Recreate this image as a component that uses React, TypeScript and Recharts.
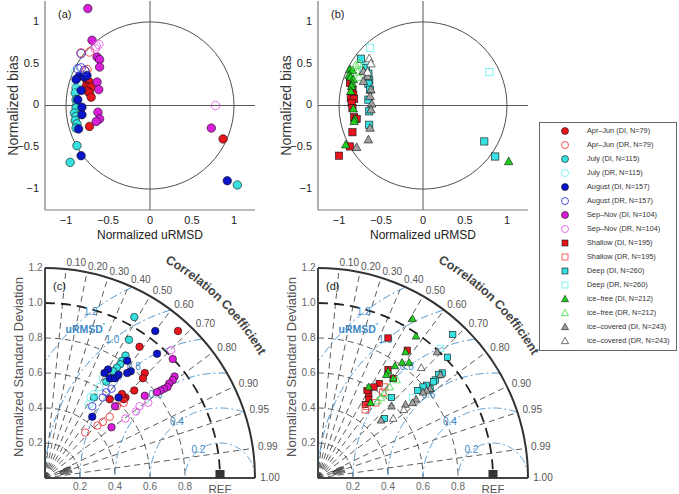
import React from "react";
import { ScatterChart, Scatter, XAxis, YAxis, ReferenceLine, Customized } from "recharts";
import * as RC from "recharts";

type Pt = [number, number];

// ---- (a) target diagram by season: [normalized uRMSD, normalized bias]
const aprJunDI_a: Pt[] = [[-0.75, 0.29], [-0.72, 0.28], [-0.76, 0.23], [-0.73, 0.22], [-0.7, 0.22], [-0.74, 0.17], [-0.72, 0.15], [-0.7, 0.1], [-0.72, -0.25], [0.87, -0.4]];
const aprJunDR_a: Pt[] = [[-0.82, 0.63], [-0.72, 0.64], [-0.75, 0.43], [-0.77, 0.41]];
const julyDI_a: Pt[] = [[-0.88, 0.21], [-0.89, 0.15], [-0.88, 0.07], [-0.87, 0.01], [-0.88, -0.03], [-0.9, -0.09], [-0.88, -0.13], [-0.89, -0.18], [-0.87, -0.22], [-0.88, -0.27], [-0.87, -0.48], [-0.95, -0.68], [1.04, -0.95]];
const julyDR_a: Pt[] = [[-0.89, 0.4], [-0.88, 0.26], [-0.86, 0.2]];
const augustDI_a: Pt[] = [[-0.84, 0.35], [-0.88, 0.31], [-0.78, 0.34], [-0.75, 0.36], [-0.82, 0.18], [-0.86, 0.07], [-0.81, -0.02], [-0.81, -0.11], [-0.85, -0.28], [-0.82, -0.6], [0.92, -0.9]];
const augustDR_a: Pt[] = [[-0.82, 0.62], [-0.86, 0.44], [-0.82, 0.45], [-0.78, 0.42]];
const sepNovDI_a: Pt[] = [[-0.74, 1.16], [-0.69, 0.78], [-0.63, 0.58], [-0.6, 0.55], [-0.6, 0.46], [-0.63, 0.28], [-0.61, 0.19], [-0.62, -0.08], [-0.6, -0.16], [-0.64, -0.19], [0.73, -0.27]];
const sepNovDR_a: Pt[] = [[-0.64, 0.71], [-0.61, 0.73], [-0.65, 0.68], [0.78, 0.0]];

// ---- (b) target diagram by depth / ice cover
const shallowDI_b: Pt[] = [[-0.87, 0.27], [-0.84, 0.18], [-0.83, 0.13], [-0.86, 0.09], [-0.82, 0.08], [-0.85, 0.03], [-0.84, -0.03], [-0.82, -0.14], [-0.79, -0.16], [-0.84, -0.32], [-0.87, -0.49], [-1.0, -0.6]];
const shallowDR_b: Pt[] = [];
const deepDI_b: Pt[] = [[-0.74, 0.56], [-0.68, 0.45], [-0.65, 0.38], [-0.64, 0.3], [-0.65, 0.26], [-0.63, 0.19], [-0.65, 0.07], [-0.64, -0.07], [-0.64, -0.23], [0.73, -0.43], [0.86, -0.61]];
const deepDR_b: Pt[] = [[-0.63, 0.69], [-0.7, 0.46], [0.79, 0.4]];
const iceFreeDI_b: Pt[] = [[-0.87, 0.43], [-0.84, 0.42], [-0.88, 0.36], [-0.86, 0.34], [-0.83, 0.31], [-0.84, 0.26], [-0.85, 0.23], [-0.86, 0.17], [-0.83, -0.04], [-0.81, -0.16], [-0.82, -0.19], [-0.92, -0.47], [1.02, -0.67]];
const iceFreeDR_b: Pt[] = [[-0.8, 0.48], [-0.76, 0.5], [-0.78, 0.4], [-0.76, 0.34]];
const iceCovDI_b: Pt[] = [[-0.71, 0.41], [-0.66, 0.35], [-0.71, 0.29], [-0.62, 0.19], [-0.63, 0.11], [-0.61, 0.02], [-0.62, -0.05], [-0.63, -0.27], [-0.65, -0.41], [-0.79, -0.5]];
const iceCovDR_b: Pt[] = [[-0.64, 0.56], [-0.62, 0.5], [-0.66, 0.4]];

// ---- (c) Taylor diagram by season: [std*corr, std*sin]
const aprJunDI_c: Pt[] = [[0.76, 0.84], [0.54, 0.75], [0.57, 0.6], [0.56, 0.57], [0.51, 0.5], [0.46, 0.46], [0.45, 0.45], [0.44, 0.48], [0.37, 0.45]];
const aprJunDR_c: Pt[] = [[0.23, 0.26], [0.3, 0.3], [0.33, 0.32], [0.37, 0.35], [0.41, 0.41], [0.45, 0.43]];
const julyDI_c: Pt[] = [[0.51, 0.92], [0.48, 0.79], [0.46, 0.7], [0.44, 0.67], [0.43, 0.65], [0.41, 0.63], [0.39, 0.61], [0.38, 0.57], [0.35, 0.55], [0.28, 0.46]];
const julyDR_c: Pt[] = [[0.33, 0.57], [0.31, 0.52], [0.28, 0.48], [0.26, 0.46], [0.25, 0.42]];
const augustDI_c: Pt[] = [[0.63, 0.84], [0.64, 0.71], [0.47, 0.67], [0.49, 0.61], [0.47, 0.6], [0.36, 0.62], [0.34, 0.6], [0.37, 0.57], [0.4, 0.57], [0.42, 0.59], [0.42, 0.46], [0.27, 0.35]];
const augustDR_c: Pt[] = [[0.38, 0.51], [0.35, 0.49], [0.33, 0.46], [0.27, 0.41]];
const sepNovDI_c: Pt[] = [[0.73, 0.68], [0.74, 0.58], [0.73, 0.56], [0.71, 0.54], [0.7, 0.52], [0.68, 0.51], [0.66, 0.5], [0.64, 0.49], [0.57, 0.47], [0.4, 0.41], [0.38, 0.29]];
const sepNovDR_c: Pt[] = [[0.72, 0.73], [0.59, 0.43], [0.54, 0.41], [0.52, 0.38], [0.46, 0.34]];

// ---- (d) Taylor diagram by depth / ice cover
const shallowDI_d: Pt[] = [[0.4, 0.8], [0.51, 0.73], [0.4, 0.62], [0.43, 0.57], [0.35, 0.54], [0.32, 0.52], [0.29, 0.48], [0.28, 0.5], [0.29, 0.45], [0.27, 0.42]];
const shallowDR_d: Pt[] = [[0.38, 0.52], [0.37, 0.49], [0.33, 0.43], [0.28, 0.41], [0.27, 0.39]];
const deepDI_d: Pt[] = [[0.77, 0.82], [0.74, 0.69], [0.71, 0.6], [0.69, 0.59], [0.67, 0.56], [0.66, 0.55], [0.64, 0.51], [0.62, 0.53], [0.6, 0.52], [0.57, 0.5], [0.42, 0.46], [0.38, 0.34]];
const deepDR_d: Pt[] = [[0.7, 0.74], [0.54, 0.46]];
const iceFreeDI_d: Pt[] = [[0.54, 0.91], [0.56, 0.81], [0.5, 0.72], [0.48, 0.66], [0.52, 0.66], [0.44, 0.64], [0.4, 0.61], [0.39, 0.59], [0.43, 0.57], [0.29, 0.52], [0.3, 0.43]];
const iceFreeDR_d: Pt[] = [[0.45, 0.56], [0.41, 0.52], [0.38, 0.48], [0.36, 0.46], [0.34, 0.44]];
const iceCovDI_d: Pt[] = [[0.68, 0.72], [0.7, 0.59], [0.64, 0.51], [0.62, 0.5], [0.6, 0.49], [0.56, 0.45], [0.54, 0.43], [0.5, 0.42], [0.42, 0.41], [0.36, 0.33]];
const iceCovDR_d: Pt[] = [[0.59, 0.63], [0.49, 0.39], [0.43, 0.34]];

const refPoint: Pt[] = [[1, 0]];

// ticks
const TARGET_TICKS = [-1, -0.5, 0, 0.5, 1];
const STD_TICKS_Y = [0.2, 0.4, 0.6, 0.8, 1.0, 1.2];
const STD_TICKS_X = [0.2, 0.4, 0.6, 0.8, 1.0];
const CORR_TICKS = [0.1, 0.2, 0.3, 0.4, 0.5, 0.6, 0.7, 0.8, 0.9, 0.95, 0.99, 1.0];
const CORR_FINE = [0.91, 0.92, 0.93, 0.94, 0.96, 0.97, 0.98];
const STD_ARCS = [0.2, 0.4, 0.6, 0.8];
const URMSD_LEVELS = [0.2, 0.4, 0.6, 0.8, 1.0, 1.2];
const CORR_TITLE = "Correlation Coefficient";

const FONT = '"Liberation Sans", Arial, Helvetica, sans-serif';
const BLUE_RMS = "#3a89c6";
const EDGE = "#111";

// Arial bold advance widths (em) for the curved title
const BOLD_W: Record<string, number> = { C: 0.722, o: 0.611, r: 0.389, e: 0.556, l: 0.278, a: 0.556, t: 0.333, i: 0.278, n: 0.611, " ": 0.278, f: 0.333, c: 0.556 };

type Kind = "circle" | "square" | "triangle";
type Style = { label: string; kind: Kind; fill: string; stroke: string };

const STYLES: Record<string, Style> = {
  aprJunDI: { label: "Apr–Jun (DI, N=79)", kind: "circle", fill: "#e8141e", stroke: EDGE },
  aprJunDR: { label: "Apr–Jun (DR, N=79)", kind: "circle", fill: "none", stroke: "#f03c3c" },
  julyDI: { label: "July (DI, N=115)", kind: "circle", fill: "#36e0e0", stroke: EDGE },
  julyDR: { label: "July (DR, N=115)", kind: "circle", fill: "none", stroke: "#70f0f0" },
  augustDI: { label: "August (DI, N=157)", kind: "circle", fill: "#0a14c8", stroke: EDGE },
  augustDR: { label: "August (DR, N=157)", kind: "circle", fill: "none", stroke: "#3c3cd8" },
  sepNovDI: { label: "Sep–Nov (DI, N=104)", kind: "circle", fill: "#d81ed8", stroke: EDGE },
  sepNovDR: { label: "Sep–Nov (DR, N=104)", kind: "circle", fill: "none", stroke: "#e65fe6" },
  shallowDI: { label: "Shallow (DI, N=195)", kind: "square", fill: "#e8141e", stroke: EDGE },
  shallowDR: { label: "Shallow (DR, N=195)", kind: "square", fill: "none", stroke: "#f05050" },
  deepDI: { label: "Deep (DI, N=260)", kind: "square", fill: "#36e0e0", stroke: EDGE },
  deepDR: { label: "Deep (DR, N=260)", kind: "square", fill: "none", stroke: "#70f0f0" },
  iceFreeDI: { label: "ice–free (DI, N=212)", kind: "triangle", fill: "#1fd11f", stroke: EDGE },
  iceFreeDR: { label: "ice–free (DR, N=212)", kind: "triangle", fill: "none", stroke: "#52e052" },
  iceCovDI: { label: "ice–covered (DI, N=243)", kind: "triangle", fill: "#a0a0a0", stroke: EDGE },
  iceCovDR: { label: "ice–covered (DR, N=243)", kind: "triangle", fill: "#ffffff", stroke: EDGE },
};

const LEGEND_ORDER = ["aprJunDI", "aprJunDR", "julyDI", "julyDR", "augustDI", "augustDR", "sepNovDI", "sepNovDR", "shallowDI", "shallowDR", "deepDI", "deepDR", "iceFreeDI", "iceFreeDR", "iceCovDI", "iceCovDR"];

const panelA: [string, Pt[]][] = [["aprJunDI", aprJunDI_a], ["aprJunDR", aprJunDR_a], ["julyDI", julyDI_a], ["julyDR", julyDR_a], ["augustDI", augustDI_a], ["augustDR", augustDR_a], ["sepNovDI", sepNovDI_a], ["sepNovDR", sepNovDR_a]];
const panelB: [string, Pt[]][] = [["shallowDI", shallowDI_b], ["shallowDR", shallowDR_b], ["deepDI", deepDI_b], ["deepDR", deepDR_b], ["iceFreeDI", iceFreeDI_b], ["iceFreeDR", iceFreeDR_b], ["iceCovDI", iceCovDI_b], ["iceCovDR", iceCovDR_b]];
const panelC: [string, Pt[]][] = [["aprJunDI", aprJunDI_c], ["aprJunDR", aprJunDR_c], ["julyDI", julyDI_c], ["julyDR", julyDR_c], ["augustDI", augustDI_c], ["augustDR", augustDR_c], ["sepNovDI", sepNovDI_c], ["sepNovDR", sepNovDR_c]];
const panelD: [string, Pt[]][] = [["shallowDI", shallowDI_d], ["shallowDR", shallowDR_d], ["deepDI", deepDI_d], ["deepDR", deepDR_d], ["iceFreeDI", iceFreeDI_d], ["iceFreeDR", iceFreeDR_d], ["iceCovDI", iceCovDI_d], ["iceCovDR", iceCovDR_d]];

const toXY = (pts: Pt[]) => pts.map(([x, y]) => ({ x, y }));

// chart geometry
const TGT = { w: 270, h: 245, margin: { top: 1, right: 15, left: 0, bottom: 0 }, yw: 45, xh: 35 };
const TAY = { w: 290, h: 254, margin: { top: 28, right: 35, left: 0, bottom: 0 }, yw: 45, xh: 16 };
const TGT_PLOT = { x: 45, y: 1, width: 210, height: 209 };
const TAY_PLOT = { x: 45, y: 28, width: 210, height: 210 };

const usePlotAreaHook: any = (RC as any).usePlotArea;
function usePlot(fallback: { x: number; y: number; width: number; height: number }) {
  const pa = usePlotAreaHook ? usePlotAreaHook() : null;
  return pa && pa.width ? pa : fallback;
}

function Marker({ cx, cy, kind, fill, stroke, size }: { cx: number; cy: number; kind: Kind; fill: string; stroke: string; size: number }) {
  const h = size / 2;
  const sw = fill === "none" ? 0.9 : 0.6;
  if (kind === "circle") return <circle cx={cx} cy={cy} r={h} fill={fill} stroke={stroke} strokeWidth={sw} />;
  if (kind === "square") return <rect x={cx - h * 0.85} y={cy - h * 0.85} width={size * 0.85} height={size * 0.85} fill={fill} stroke={stroke} strokeWidth={sw} />;
  return <polygon points={`${cx},${cy - h * 1.05} ${cx + h},${cy + h * 0.75} ${cx - h},${cy + h * 0.75}`} fill={fill} stroke={stroke} strokeWidth={sw} />;
}

const minus = (v: number) => (v < 0 ? "\u2212" + Math.abs(v) : String(v));

function renderSeries(panel: [string, Pt[]][], size: number) {
  return panel.map(([key, pts]) => {
    const st = STYLES[key];
    return (
      <Scatter
        key={key}
        name={st.label}
        data={toXY(pts)}
        isAnimationActive={false}
        shape={(p: any) => <Marker cx={p.cx} cy={p.cy} kind={st.kind} fill={st.fill} stroke={st.stroke} size={size} />}
      />
    );
  });
}

function TargetDeco({ tag }: { tag: string }) {
  const pa = usePlot(TGT_PLOT);
  const kx = pa.width / 2.5;
  const ky = pa.height / 2.5;
  const cx = pa.x + pa.width / 2;
  const cy = pa.y + pa.height / 2;
  return (
    <g>
      <ellipse cx={cx} cy={cy} rx={kx} ry={ky} fill="none" stroke="#222" strokeWidth={0.8} />
      <text x={pa.x + 13} y={pa.y + 14} fontSize={11} fill="#222" dominantBaseline="middle">({tag})</text>
      <text transform={`translate(${pa.x - 31},${cy}) rotate(-90)`} textAnchor="middle" dominantBaseline="middle" fontSize={14} fill="#333">Normalized bias</text>
      <text x={cx} y={pa.y + pa.height + 26} textAnchor="middle" dominantBaseline="middle" fontSize={12} fill="#222">Normalized uRMSD</text>
    </g>
  );
}

function TaylorDeco({ tag }: { tag: string }) {
  const pa = usePlot(TAY_PLOT);
  const kx = pa.width / 1.2;
  const ky = pa.height / 1.2;
  const X = (v: number) => pa.x + v * kx;
  const Y = (v: number) => pa.y + pa.height - v * ky;
  const P = (r: number, a: number): [number, number] => [X(r * Math.cos(a)), Y(r * Math.sin(a))];
  const arc = (r: number, a0: number, a1: number) => {
    const [x0, y0] = P(r, a0);
    const [x1, y1] = P(r, a1);
    return `M${x0},${y0} A${r * kx},${r * ky} 0 0 1 ${x1},${y1}`;
  };
  const rmsPath = (r: number) => {
    let d = "";
    let pen = false;
    for (let i = 0; i <= 360; i++) {
      const t = (i / 360) * Math.PI;
      const ux = 1 + r * Math.cos(t);
      const uy = r * Math.sin(t);
      if (ux >= 0 && Math.hypot(ux, uy) <= 1.2) {
        d += `${pen ? "L" : "M"}${X(ux).toFixed(1)},${Y(uy).toFixed(1)} `;
        pen = true;
      } else pen = false;
    }
    return d;
  };
  const half = Math.PI / 2;
  const lblA = (128 * Math.PI) / 180;

  // curved title, placed glyph by glyph along r = 1.41
  const fs = 12.5;
  const rBase = 1.41;
  const rPx = rBase * kx;
  let s = 0;
  const letters = CORR_TITLE.split("").map((ch, i) => {
    const w = (BOLD_W[ch] ?? 0.55) * fs;
    const a = (61 * Math.PI) / 180 - (s + w / 2) / rPx;
    s += w;
    const [x, y] = P(rBase, a);
    const rot = 90 - (a * 180) / Math.PI;
    return ch === " " ? null : (
      <text key={`t${i}`} x={x} y={y} transform={`rotate(${rot.toFixed(2)},${x.toFixed(2)},${y.toFixed(2)})`} textAnchor="middle" fontSize={fs} fontWeight="bold" fill="#444">
        {ch}
      </text>
    );
  });

  return (
    <g>
      {STD_ARCS.map((r) => (
        <path key={`s${r}`} d={arc(r, half, 0)} fill="none" stroke="#333" strokeWidth={0.8} strokeDasharray="6 4" />
      ))}
      {CORR_TICKS.filter((c) => c < 1).map((c) => {
        const [x1, y1] = P(1.2, Math.acos(c));
        return <line key={`c${c}`} x1={X(0)} y1={Y(0)} x2={x1} y2={y1} stroke="#333" strokeWidth={0.8} strokeDasharray="6 4" />;
      })}
      {CORR_FINE.map((c) => {
        const [x0, y0] = P(0.09, Math.acos(c));
        const [x1, y1] = P(0.16, Math.acos(c));
        return <line key={`f${c}`} x1={x0} y1={y0} x2={x1} y2={y1} stroke="#333" strokeWidth={0.8} />;
      })}
      <path d={arc(1.0, half, 0)} fill="none" stroke="#222" strokeWidth={1.8} strokeDasharray="10 6" />
      {URMSD_LEVELS.map((r) => (
        <path key={`u${r}`} d={rmsPath(r)} fill="none" stroke={BLUE_RMS} strokeWidth={0.9} strokeDasharray="8 3 2 3" />
      ))}
      {URMSD_LEVELS.map((r) => (
        <text key={`ul${r}`} x={X(1 + r * Math.cos(lblA))} y={Y(r * Math.sin(lblA))} textAnchor="middle" dominantBaseline="middle" fontSize={10} fill={BLUE_RMS}>
          {r.toFixed(1)}
        </text>
      ))}
      <text x={X(0.229)} y={Y(0.846)} textAnchor="middle" dominantBaseline="middle" fontSize={10.5} fontWeight="bold" fill={BLUE_RMS}>
        uRMSD<tspan fontSize={7} dy={-4}>′</tspan>
      </text>
      <path d={arc(1.2, half, 0)} fill="none" stroke="#333" strokeWidth={2} />
      {CORR_TICKS.map((c) => {
        const [x, y] = P(1.23, Math.acos(c));
        return (
          <text key={`cl${c}`} x={x} y={y} fontSize={10} fill="#555" dominantBaseline="middle">
            {c.toFixed(2)}
          </text>
        );
      })}
      <g>{letters}</g>
      <text x={pa.x + 8} y={pa.y + 19} fontSize={11} fill="#222" dominantBaseline="middle">({tag})</text>
      <text transform={`translate(${pa.x - 25},${pa.y + pa.height / 2 - 6}) rotate(-90)`} textAnchor="middle" dominantBaseline="middle" fontSize={13} fill="#555">
        Normalized Standard Deviation
      </text>
    </g>
  );
}

const targetTickX = (p: any) => (
  <text x={p.x} y={p.y + 11} textAnchor="middle" dominantBaseline="middle" fontSize={11} fill="#222">
    {minus(p.payload.value)}
  </text>
);
const targetTickY = (p: any) => (
  <text x={p.x - 6} y={p.y} textAnchor="end" dominantBaseline="middle" fontSize={11} fill="#222">
    {minus(p.payload.value)}
  </text>
);
const taylorTickX = (p: any) =>
  p.payload.value === 1 ? (
    <text x={p.x} y={p.y + 12} textAnchor="middle" dominantBaseline="middle" fontSize={11.5} fill="#555">REF</text>
  ) : (
    <text x={p.x} y={p.y + 9} textAnchor="middle" dominantBaseline="middle" fontSize={10} fill="#666">
      {p.payload.value.toFixed(1)}
    </text>
  );
const taylorTickY = (p: any) => (
  <text x={p.x - 2.5} y={p.y} textAnchor="end" dominantBaseline="middle" fontSize={10} fill="#666">
    {p.payload.value.toFixed(1)}
  </text>
);

function TargetPanel({ tag, panel }: { tag: string; panel: [string, Pt[]][] }) {
  return (
    <ScatterChart width={TGT.w} height={TGT.h} margin={TGT.margin}>
      <XAxis type="number" dataKey="x" domain={[-1.25, 1.25]} ticks={TARGET_TICKS} allowDataOverflow height={TGT.xh} tickLine={false} tickSize={0} tickMargin={0} axisLine={{ stroke: "#7a7a7a", strokeWidth: 1.2 }} tick={targetTickX} />
      <YAxis type="number" dataKey="y" domain={[-1.25, 1.25]} ticks={TARGET_TICKS} allowDataOverflow width={TGT.yw} tickLine={false} tickSize={0} tickMargin={0} axisLine={{ stroke: "#7a7a7a", strokeWidth: 1.2 }} tick={targetTickY} />
      <Customized component={<TargetDeco tag={tag} />} />
      <ReferenceLine x={0} stroke="#555" strokeWidth={1} />
      <ReferenceLine y={0} stroke="#555" strokeWidth={1} />
      {renderSeries(panel, 8.5)}
    </ScatterChart>
  );
}

function TaylorPanel({ tag, panel }: { tag: string; panel: [string, Pt[]][] }) {
  return (
    <ScatterChart width={TAY.w} height={TAY.h} margin={TAY.margin}>
      <XAxis type="number" dataKey="x" domain={[0, 1.2]} ticks={STD_TICKS_X} allowDataOverflow height={TAY.xh} tickLine={false} tickSize={0} tickMargin={0} axisLine={{ stroke: "#444", strokeWidth: 2 }} tick={taylorTickX} />
      <YAxis type="number" dataKey="y" domain={[0, 1.2]} ticks={STD_TICKS_Y} allowDataOverflow width={TAY.yw} tickLine={false} tickSize={0} tickMargin={0} axisLine={{ stroke: "#444", strokeWidth: 2 }} tick={taylorTickY} />
      <Customized component={<TaylorDeco tag={tag} />} />
      {renderSeries(panel, 7.5)}
      <Scatter
        name="REF"
        data={toXY(refPoint)}
        isAnimationActive={false}
        shape={(p: any) => <rect x={p.cx - 4.5} y={p.cy - 8} width={9} height={9} fill="#333" />}
      />
    </ScatterChart>
  );
}

function LegendBox() {
  return (
    <div style={{ position: "absolute", left: 539, top: 122, width: 136, height: 226, border: "1px solid #666", background: "#fff", paddingTop: 1 }}>
      {LEGEND_ORDER.map((k) => {
        const st = STYLES[k];
        return (
          <div key={k} style={{ position: "relative", height: 14 }}>
            <svg width={12} height={12} style={{ position: "absolute", left: 19, top: 1 }}>
              <Marker cx={6} cy={6} kind={st.kind} fill={st.fill} stroke={st.stroke} size={7} />
            </svg>
            <span style={{ position: "absolute", left: 47, top: 0, lineHeight: "14px", fontSize: 7.3, color: "#333", whiteSpace: "nowrap" }}>{st.label}</span>
          </div>
        );
      })}
    </div>
  );
}

export default function App() {
  return (
    <div style={{ position: "absolute", left: 0, top: 0, width: 679, height: 494, background: "#fff", fontFamily: FONT, overflow: "hidden" }}>
      <style>{".recharts-surface{overflow:visible}"}</style>
      <div style={{ position: "absolute", left: 0, top: 0 }}>
        <TargetPanel tag="a" panel={panelA} />
      </div>
      <div style={{ position: "absolute", left: 273, top: 0 }}>
        <TargetPanel tag="b" panel={panelB} />
      </div>
      <div style={{ position: "absolute", left: 0, top: 240 }}>
        <TaylorPanel tag="c" panel={panelC} />
      </div>
      <div style={{ position: "absolute", left: 273, top: 240 }}>
        <TaylorPanel tag="d" panel={panelD} />
      </div>
      <LegendBox />
    </div>
  );
}
